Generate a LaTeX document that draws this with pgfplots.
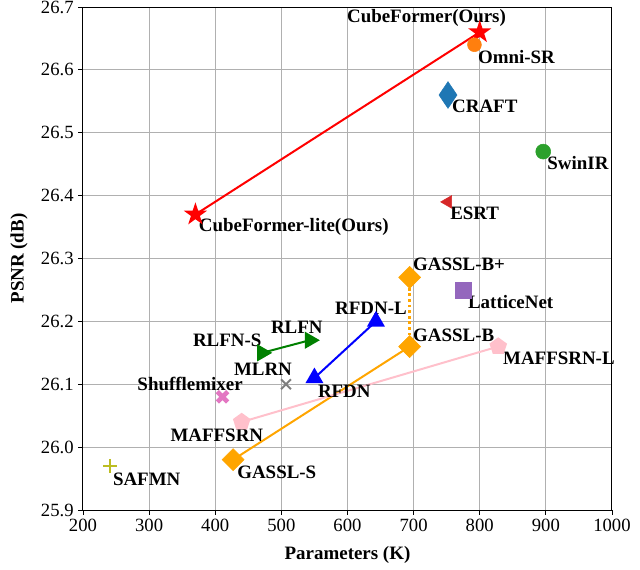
\documentclass[border=0pt]{standalone}
\usepackage{pgfplots}
\pgfplotsset{compat=1.18}
\usepackage{fontspec}
\setmainfont{Liberation Serif}
\definecolor{tabblue}{HTML}{1F77B4}
\definecolor{taborange}{HTML}{FF7F0E}
\definecolor{tabgreen}{HTML}{2CA02C}
\definecolor{tabred}{HTML}{D62728}
\definecolor{tabpurple}{HTML}{9467BD}
\definecolor{tabpink}{HTML}{E377C2}
\definecolor{tabgray}{HTML}{7F7F7F}
\definecolor{tabolive}{HTML}{BCBD22}
\definecolor{morange}{HTML}{FFA500}
\definecolor{mpink}{HTML}{FFC0CB}
\definecolor{mgreen}{HTML}{008000}
\definecolor{mblue}{HTML}{0000FF}
\definecolor{mred}{HTML}{FF0000}
\definecolor{gridgray}{HTML}{B0B0B0}
\newcommand{\lfont}{\fontsize{14.2}{16}\selectfont\bfseries}
\pgfdeclareplotmark{fstar}{%
  \pgfpathmoveto{\pgfpointpolar{90}{\pgfplotmarksize}}%
  \pgfpathlineto{\pgfpointpolar{126}{0.382*\pgfplotmarksize}}%
  \pgfpathlineto{\pgfpointpolar{162}{\pgfplotmarksize}}%
  \pgfpathlineto{\pgfpointpolar{198}{0.382*\pgfplotmarksize}}%
  \pgfpathlineto{\pgfpointpolar{234}{\pgfplotmarksize}}%
  \pgfpathlineto{\pgfpointpolar{270}{0.382*\pgfplotmarksize}}%
  \pgfpathlineto{\pgfpointpolar{306}{\pgfplotmarksize}}%
  \pgfpathlineto{\pgfpointpolar{342}{0.382*\pgfplotmarksize}}%
  \pgfpathlineto{\pgfpointpolar{18}{\pgfplotmarksize}}%
  \pgfpathlineto{\pgfpointpolar{54}{0.382*\pgfplotmarksize}}%
  \pgfpathclose
  \pgfusepathqfillstroke}
\begin{document}
\begin{tikzpicture}[font=\fontsize{11.7}{14}\selectfont]
\useasboundingbox (0,0) rectangle (480pt,426.75pt);
\begin{axis}[
  at={(62.25pt,44.25pt)}, anchor=south west,
  scale only axis, width=396.75pt, height=377.25pt,
  xmin=200, xmax=1000, ymin=25.9, ymax=26.7,
  xtick={200,300,400,500,600,700,800,900,1000},
  ytick={25.9,26.0,26.1,26.2,26.3,26.4,26.5,26.6,26.7},
  xticklabel style={/pgf/number format/.cd, 1000 sep={}},
  yticklabel style={/pgf/number format/.cd, fixed, precision=1, fixed zerofill},
  tick label style={font=\fontsize{14}{16}\selectfont},
  label style={font=\fontsize{14.2}{16}\selectfont\bfseries},
  /pgf/number format/assume math mode=true,
  grid=major, grid style={gridgray, line width=0.75pt},
  tick pos=left, tick align=outside, major tick length=3.5pt,
  tick style={black, line width=0.6pt},
  axis line style={line width=0.75pt},
  xlabel={Parameters (K)}, ylabel={PSNR (dB)},
  xlabel style={at={(axis description cs:0.5,-0.089)}, anchor=center},
  ylabel style={at={(axis description cs:-0.121,0.5)}, anchor=center},
  clip=false,
]
% lines
\addplot[mred, line width=1.5pt, mark=fstar, mark size=6.75pt, mark options={solid, fill=mred}] coordinates {(370,26.37) (800,26.66)};
\addplot[mgreen, line width=1.5pt, mark=triangle*, mark size=6pt, mark options={solid, rotate=-90, fill=mgreen}] coordinates {(471,26.15) (543,26.17)};
\addplot[mblue, line width=1.5pt, mark=triangle*, mark size=6.3pt, mark options={solid, fill=mblue}] coordinates {(550,26.11) (643,26.20)};
\addplot[morange, line width=1.5pt] coordinates {(427,25.98) (694,26.16)};
\addplot[morange, line width=2pt, dash pattern=on 2pt off 2.2pt] coordinates {(694,26.16) (694,26.27)};
\addplot[morange, only marks, mark=diamond*, mark size=8.25pt, mark options={xscale=1.333, fill=morange, draw=morange}] coordinates {(427,25.98) (694,26.16) (694,26.27)};
\addplot[mpink, line width=1.5pt, mark=pentagon*, mark size=6pt, mark options={solid, fill=mpink}] coordinates {(440,26.04) (828,26.16)};
% single models
\addplot[taborange, only marks, mark=*, mark size=5.2pt, mark options={fill=taborange}] coordinates {(792,26.64)};
\addplot[tabblue, only marks, mark=diamond*, mark size=10pt, mark options={xscale=0.9, fill=tabblue}] coordinates {(752,26.56)};
\addplot[tabgreen, only marks, mark=*, mark size=5.6pt, mark options={fill=tabgreen}] coordinates {(896,26.47)};
\addplot[tabred, only marks, mark=triangle*, mark size=5.5pt, mark options={rotate=90, fill=tabred}] coordinates {(752,26.39)};
\addplot[tabpurple, only marks, mark=square*, mark size=6pt, mark options={fill=tabpurple}] coordinates {(775,26.25)};
\addplot[tabgray, only marks, mark=x, mark size=5.25pt, mark options={line width=1.5pt}] coordinates {(507,26.10)};
\addplot[tabpink, only marks, mark=x, mark size=5.5pt, mark options={line width=3.5pt}] coordinates {(411,26.08)};
\addplot[tabolive, only marks, mark=+, mark size=5.25pt, mark options={line width=1.5pt}] coordinates {(241,25.97)};
% labels
\node[font=\lfont, anchor=center, inner sep=0pt] at (axis cs:719.5,26.6825) {CubeFormer(Ours)};
\node[font=\lfont, anchor=west, inner sep=0pt] at (axis cs:797,26.620) {Omni-SR};
\node[font=\lfont, anchor=west, inner sep=0pt] at (axis cs:758,26.5425) {CRAFT};
\node[font=\lfont, anchor=west, inner sep=0pt] at (axis cs:902,26.452) {SwinIR};
\node[font=\lfont, anchor=west, inner sep=0pt] at (axis cs:755,26.3725) {ESRT};
\node[font=\lfont, anchor=west, inner sep=0pt] at (axis cs:375,26.35) {CubeFormer-lite(Ours)};
\node[font=\lfont, anchor=west, inner sep=0pt] at (axis cs:699,26.29) {GASSL-B+};
\node[font=\lfont, anchor=west, inner sep=0pt] at (axis cs:782,26.231) {LatticeNet};
\node[font=\lfont, anchor=east, inner sep=0pt] at (axis cs:690,26.22) {RFDN-L};
\node[font=\lfont, anchor=west, inner sep=0pt] at (axis cs:484,26.191) {RLFN};
\node[font=\lfont, anchor=west, inner sep=0pt] at (axis cs:366,26.17) {RLFN-S};
\node[font=\lfont, anchor=west, inner sep=0pt] at (axis cs:699,26.178) {GASSL-B};
\node[font=\lfont, anchor=west, inner sep=0pt] at (axis cs:835,26.142) {MAFFSRN-L};
\node[font=\lfont, anchor=west, inner sep=0pt] at (axis cs:428,26.123) {MLRN};
\node[font=\lfont, anchor=west, inner sep=0pt] at (axis cs:555,26.089) {RFDN};
\node[font=\lfont, anchor=west, inner sep=0pt] at (axis cs:282,26.10) {Shufflemixer};
\node[font=\lfont, anchor=west, inner sep=0pt] at (axis cs:332,26.019) {MAFFSRN};
\node[font=\lfont, anchor=west, inner sep=0pt] at (axis cs:433,25.96) {GASSL-S};
\node[font=\lfont, anchor=west, inner sep=0pt] at (axis cs:245,25.949) {SAFMN};
\end{axis}
\end{tikzpicture}
\end{document}
